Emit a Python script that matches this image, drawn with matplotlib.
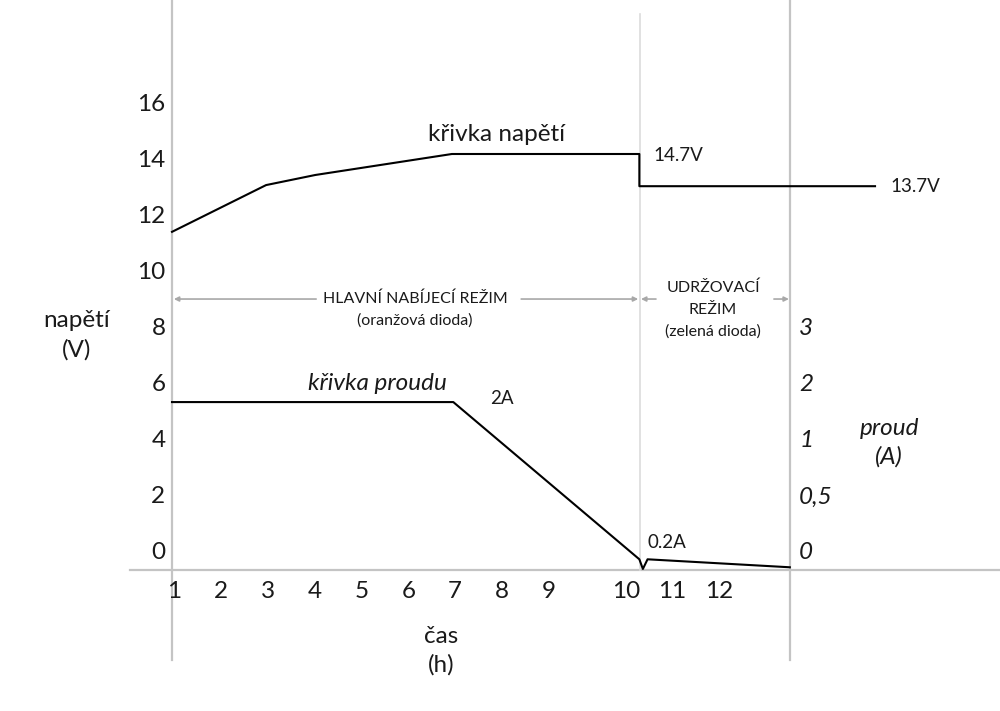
import matplotlib
matplotlib.use("Agg")
import matplotlib.pyplot as plt

plt.rcParams['font.family'] = ['Lato', 'DejaVu Sans']

# voltage curve (h, V on the left scale)
volt_hours = [1, 3.01, 4.06, 6.98, 10.985, 10.985, 16.02]
volt_values = [11.47, 13.14, 13.5, 14.25, 14.25, 13.1, 13.1]

# current curve, in the same drawing scale as the left axis
# (right-axis labels 0, 0.5, 1, 2, 3 sit at 0, 2, 4, 6, 8)
curr_hours = [1, 7.01, 10.985, 11.06, 11.16, 14.2]
curr_values = [5.39, 5.39, -0.225, -0.57, -0.225, -0.51]

x_tick_pos = [1, 2, 3, 4, 5, 6, 7, 8, 9, 10.66, 11.64, 12.65]
x_tick_labels = ["1", "2", "3", "4", "5", "6", "7", "8", "9", "10", "11", "12"]
volt_ticks = [16, 14, 12, 10, 8, 6, 4, 2, 0]
curr_tick_pos = [8, 6, 4, 2, 0]
curr_tick_labels = ["3", "2", "1", "0,5", "0"]

AX_GRAY = "#c4c4c4"
ARROW_GRAY = "#a8a8a8"
TXT = "#1a1a1a"
BIG = 17.5
MID = 13.5
SMALL = 11.5

fig = plt.figure(figsize=(10, 7.11), dpi=100)
ax = fig.add_axes([0, 0, 1, 1])
ax.set_xlim(-2.675, 18.69)
ax.set_ylim(-5.643, 19.75)
ax.axis("off")

# axis lines
y_axis0 = -0.61
ax.plot([0.10, 18.69], [y_axis0, y_axis0], color=AX_GRAY, lw=1.6, zorder=1)
ax.plot([1, 1], [-3.82, 19.75], color=AX_GRAY, lw=1.6, zorder=1)
ax.plot([14.21, 14.21], [-3.82, 19.75], color=AX_GRAY, lw=1.6, zorder=1)
ax.plot([11.0, 11.0], [y_axis0, 19.25], color="#dcdcdc", lw=1.2, zorder=1)

# curves
ax.plot(volt_hours, volt_values, color="black", lw=1.5, zorder=3)
ax.plot(curr_hours, curr_values, color="black", lw=1.5, zorder=3)

# tick labels
for v in volt_ticks:
    ax.text(0.86, v, str(v), ha="right", va="center", fontsize=BIG, color=TXT)
for p, lab in zip(curr_tick_pos, curr_tick_labels):
    ax.text(14.4, p, lab, ha="left", va="center", fontsize=BIG,
            style="italic", color=TXT)
for p, lab in zip(x_tick_pos, x_tick_labels):
    ax.text(p + 0.05, -1.38, lab, ha="center", va="center", fontsize=BIG, color=TXT)

# axis titles
ax.text(-1.03, 8.32, "napětí", ha="center", va="center", fontsize=BIG, color=TXT)
ax.text(-1.03, 7.25, "(V)", ha="center", va="center", fontsize=BIG, color=TXT)
ax.text(16.32, 4.46, "proud", ha="center", va="center", fontsize=BIG,
        style="italic", color=TXT)
ax.text(16.32, 3.43, "(A)", ha="center", va="center", fontsize=BIG,
        style="italic", color=TXT)
ax.text(6.75, -3.0, "čas", ha="center", va="center", fontsize=BIG, color=TXT)
ax.text(6.75, -4.0, "(h)", ha="center", va="center", fontsize=BIG, color=TXT)

# curve annotations
ax.text(7.94, 14.96, "křivka napětí", ha="center", va="center", fontsize=BIG, color=TXT)
ax.text(11.28, 14.21, "14.7V", ha="left", va="center", fontsize=MID, color=TXT)
ax.text(16.34, 13.1, "13.7V", ha="left", va="center", fontsize=MID, color=TXT)
ax.text(5.38, 6.07, "křivka proudu", ha="center", va="center", fontsize=BIG,
        style="italic", color=TXT)
ax.text(7.79, 5.5, "2A", ha="left", va="center", fontsize=MID, color=TXT)
ax.text(11.15, 0.36, "0.2A", ha="left", va="center", fontsize=MID, color=TXT)

# charging mode arrows
arrow_y = 9.07
aprops = dict(arrowstyle="-|>", color=ARROW_GRAY, lw=1.2,
              mutation_scale=7, shrinkA=0, shrinkB=0)
ax.annotate("", xy=(1.04, arrow_y), xytext=(4.08, arrow_y), arrowprops=aprops)
ax.annotate("", xy=(10.96, arrow_y), xytext=(8.46, arrow_y), arrowprops=aprops)
ax.annotate("", xy=(11.02, arrow_y), xytext=(11.34, arrow_y), arrowprops=aprops)
ax.annotate("", xy=(14.18, arrow_y), xytext=(13.86, arrow_y), arrowprops=aprops)

ax.text(6.19, 9.07, "HLAVNÍ NABÍJECÍ REŽIM", ha="center", va="center",
        fontsize=SMALL, color=TXT)
ax.text(6.19, 8.29, "(oranžová dioda)", ha="center", va="center",
        fontsize=SMALL, color=TXT)
ax.text(12.56, 9.46, "UDRŽOVACÍ", ha="center", va="center", fontsize=SMALL, color=TXT)
ax.text(12.56, 8.68, "REŽIM", ha="center", va="center", fontsize=SMALL, color=TXT)
ax.text(12.56, 7.9, "(zelená dioda)", ha="center", va="center", fontsize=SMALL, color=TXT)

fig.savefig("out.png", dpi=100)
